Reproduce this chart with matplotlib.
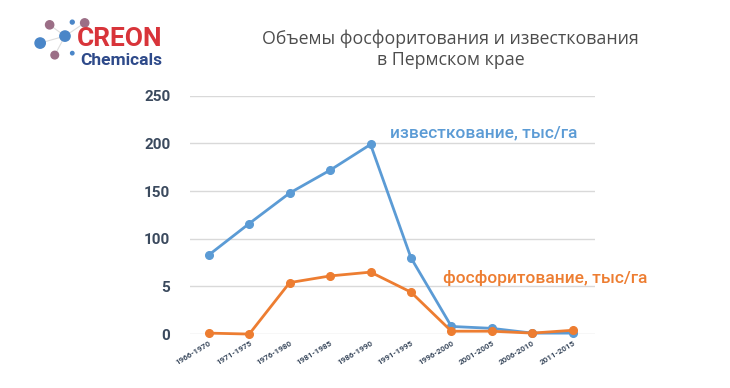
import matplotlib
matplotlib.use('Agg')
import matplotlib.pyplot as plt
import matplotlib.transforms as mtransforms

periods = ['1966-1970', '1971-1975', '1976-1980', '1981-1985', '1986-1990',
           '1991-1995', '1996-2000', '2001-2005', '2006-2010', '2011-2015']
liming = [83, 116, 148, 172, 199, 80, 8, 6, 1, 1]          # известкование
phosph = [1, 0, 54, 61, 65, 44, 3, 3, 1, 4]               # фосфоритование
yticks = [0, 50, 100, 150, 200, 250]
ylabels = ['0', '5', '100', '150', '200', '250']

blue = '#5b9bd5'
orange = '#ed7d31'
tick_col = '#3b4a5e'

fig = plt.figure(figsize=(7.3, 3.88), dpi=100)
ax = fig.add_axes([0.26, 0.139, 0.555, 0.614])

x = list(range(len(periods)))
ax.plot(x, liming, color=blue, lw=2, marker='o', ms=5.5, clip_on=False, zorder=3)
ax.plot(x, phosph, color=orange, lw=2, marker='o', ms=5.5, clip_on=False, zorder=4)

ax.set_xlim(-0.47, 9.55)
ax.set_ylim(0, 250)
ax.set_yticks(yticks)
ax.set_yticklabels(ylabels, fontsize=11, fontweight='bold', color=tick_col, family='Roboto')
ax.set_xticks(x)
ax.set_xticklabels(periods, fontsize=5.8, rotation=31, ha='right', rotation_mode='anchor',
                   color=tick_col, fontweight='bold', family='Roboto')
shift = mtransforms.ScaledTranslation(8 / 100, 0, fig.dpi_scale_trans)
for lab in ax.get_xticklabels():
    lab.set_transform(lab.get_transform() + shift)
ax.tick_params(length=0, axis='y', pad=14)
ax.tick_params(length=0, axis='x', pad=4)
ax.grid(axis='y', color='#d9d9d9', lw=1)
ax.set_axisbelow(True)
for s in ax.spines.values():
    s.set_visible(False)

# series labels
fig.text(0.534, 0.657, 'известкование, тыс/га', color=blue, fontsize=12.5,
         family='Roboto', fontweight='medium', va='center')
fig.text(0.607, 0.283, 'фосфоритование, тыс/га', color=orange, fontsize=12.5,
         family='Roboto', fontweight='medium', va='center')

# title
fig.text(0.617, 0.874, 'Объемы фосфоритования и известкования\nв Пермском крае',
         ha='center', va='center', fontsize=12.8, color='#4d4d4d',
         family='Open Sans', linespacing=1.2)

# logo
lx = [0.055, 0.089, 0.068, 0.099, 0.116, 0.075, 0.099]
ly = [0.889, 0.907, 0.936, 0.943, 0.941, 0.858, 0.863]
lc = ['#4a86c8', '#4a86c8', '#9b6e86', '#4a86c8', '#9b6e86', '#9b6e86', '#4a86c8']
ls = [55, 55, 35, 8, 35, 30, 6]
lax = fig.add_axes([0, 0, 1, 1], facecolor='none')
lax.set_xlim(0, 1)
lax.set_ylim(0, 1)
lax.axis('off')
lax.plot([0.055, 0.089, 0.116], [0.889, 0.907, 0.941], color='#dddddd', lw=0.8, zorder=1)
lax.plot([0.068, 0.089, 0.075], [0.936, 0.907, 0.858], color='#dddddd', lw=0.8, zorder=1)
lax.scatter(lx, ly, s=ls, c=lc, zorder=2)
lax.text(0.105, 0.899, 'CREON', color='#d8343a', fontsize=19, fontweight='bold',
         family='Roboto', va='center')
lax.text(0.110, 0.845, 'Chemicals', color='#2e4a8a', fontsize=12.5, fontweight='bold',
         family='Roboto', va='center')

fig.savefig('out.png', dpi=100, facecolor='white')
